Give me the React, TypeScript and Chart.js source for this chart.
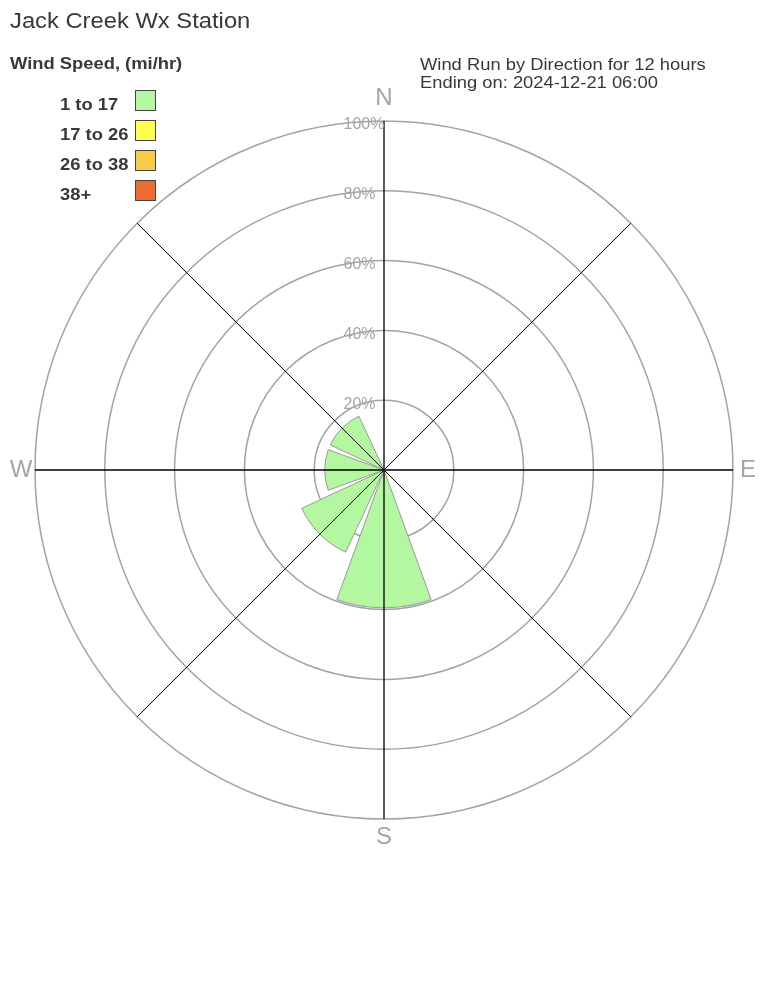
import React, { useEffect, useRef } from 'react';
import { Chart, registerables } from 'chart.js';

Chart.register(...registerables);

// ---- data ----
const DIRECTIONS = ['N', 'NE', 'E', 'SE', 'S', 'SW', 'W', 'NW'];
const SPEED_BINS = ['1 to 17', '17 to 26', '26 to 38', '38+'];
const BIN_1_17 = [0, 0, 0, 0, 39.5, 26, 17, 17];
const BIN_17_26 = [0, 0, 0, 0, 0, 0, 0, 0];
const BIN_26_38 = [0, 0, 0, 0, 0, 0, 0, 0];
const BIN_38_PLUS = [0, 0, 0, 0, 0, 0, 0, 0];
const RING_TICKS = [20, 40, 60, 80, 100];
const COMPASS_LABELS = ['N', 'E', 'S', 'W'];
const TITLE = 'Jack Creek Wx Station';
const LEGEND_TITLE = 'Wind Speed, (mi/hr)';
const SUBTITLE_LINES = ['Wind Run by Direction for 12 hours', 'Ending on: 2024-12-21 06:00'];

// ---- styles ----
const BIN_COLORS = ['#b3f7a1', '#ffff4f', '#f7cd47', '#ee6d2e'];
const FONT = '"Liberation Sans", Arial, Helvetica, sans-serif';
const WEDGE_ANGLE = 40;
const GAP_ANGLE = 5;

const BINS = [BIN_1_17, BIN_17_26, BIN_26_38, BIN_38_PLUS];

function buildDatasets() {
  return BINS.map((bin, k) => {
    const perDir = DIRECTIONS.map((_, i) => {
      if (!(bin[i] > 0)) return 0;
      let s = 0;
      for (let j = 0; j <= k; j++) s += BINS[j][i];
      return s;
    });
    const data = perDir.flatMap((v) => [v, 0]);
    return {
      label: SPEED_BINS[k],
      data,
      backgroundColor: BIN_COLORS[k],
      borderColor: '#9a9a9a',
      borderWidth: (c: any) => (c.raw > 0 ? 1 : 0),
      angle: (c: any) => (c.dataIndex % 2 === 0 ? WEDGE_ANGLE : GAP_ANGLE),
    };
  });
}

const roseLabels = {
  id: 'roseLabels',
  afterDraw(chart: any) {
    const s = chart.scales.r;
    const ctx = chart.ctx;
    const R = s.drawingArea;
    const xc = s.xCenter;
    const yc = s.yCenter;
    ctx.save();
    ctx.fillStyle = '#a5a5a5';
    ctx.font = `16px ${FONT}`;
    ctx.textAlign = 'left';
    ctx.textBaseline = 'middle';
    RING_TICKS.forEach((v) => {
      const d = s.getDistanceFromCenterForValue(v);
      ctx.fillText(`${v}%`, xc - 40.5, yc - d + 4);
    });
    ctx.font = `24px ${FONT}`;
    ctx.textAlign = 'center';
    ctx.textBaseline = 'alphabetic';
    const pos: Record<string, [number, number]> = {
      N: [xc, yc - R - 16.4],
      E: [xc + R + 15, yc + 7],
      S: [xc, yc + R + 25],
      W: [xc - R - 14, yc + 7],
    };
    COMPASS_LABELS.forEach((l) => {
      const p = pos[l];
      ctx.fillText(l, p[0], p[1]);
    });
    ctx.restore();
  },
};

function Txt(props: { left: number; baseline: number; size: number; bold?: boolean; sx?: number; color?: string; children: any }) {
  const { left, baseline, size, bold, sx = 1.08, color = '#383838', children } = props;
  return (
    <div
      style={{
        position: 'absolute',
        left,
        top: baseline - 0.8465 * size,
        fontFamily: FONT,
        fontSize: size,
        lineHeight: `${size}px`,
        fontWeight: bold ? 700 : 400,
        color,
        whiteSpace: 'nowrap',
        transform: `scaleX(${sx})`,
        transformOrigin: 'left top',
      }}
    >
      {children}
    </div>
  );
}

export default function App() {
  const ref = useRef<HTMLCanvasElement | null>(null);

  useEffect(() => {
    if (!ref.current) return;
    const chart = new Chart(ref.current, {
      type: 'polarArea',
      data: {
        labels: DIRECTIONS.flatMap((d) => [d, '']),
        datasets: buildDatasets() as any,
      },
      options: {
        animation: false,
        responsive: false,
        layout: { padding: { left: 35, top: 121, right: 35, bottom: 189 } },
        plugins: {
          legend: { display: false },
          tooltip: { enabled: false },
        },
        scales: {
          r: {
            min: 0,
            max: 100,
            startAngle: -WEDGE_ANGLE / 2,
            afterBuildTicks: (sc: any) => {
              sc.ticks = [0, ...RING_TICKS].map((v) => ({ value: v }));
            },
            ticks: { display: false, stepSize: 20 },
            grid: { display: true, circular: true, color: '#a3a3a3', lineWidth: 1.5 },
            angleLines: { display: false },
            pointLabels: { display: false },
          },
          r2: {
            type: 'radialLinear',
            axis: 'r',
            min: 0,
            max: 100,
            startAngle: 0,
            ticks: { display: false, stepSize: 20 },
            grid: { display: false, z: 1 },
            angleLines: {
              display: true,
              color: '#000',
              lineWidth: (c: any) => (c.index % 2 ? 0 : c.index % 4 === 0 ? 1.3 : 1),
            },
            pointLabels: { display: false },
          },
        } as any,
      },
      plugins: [roseLabels],
    } as any);
    return () => chart.destroy();
  }, []);

  return (
    <div style={{ position: 'absolute', left: 0, top: 0, width: 768, height: 1008, background: '#fff', overflow: 'hidden' }}>
      <canvas ref={ref} width={768} height={1008} style={{ position: 'absolute', left: 0, top: 0, width: 768, height: 1008 }} />
      <Txt left={10} baseline={28.5} size={22}>{TITLE}</Txt>
      <Txt left={10} baseline={69} size={17} bold>{LEGEND_TITLE}</Txt>
      {SPEED_BINS.map((b, k) => (
        <React.Fragment key={b}>
          <Txt left={60} baseline={110 + 30 * k} size={17} bold>{b}</Txt>
          <div
            style={{
              position: 'absolute',
              left: 135,
              top: 90 + 30 * k,
              width: 21,
              height: 21,
              boxSizing: 'border-box',
              border: '1px solid #444',
              background: BIN_COLORS[k],
            }}
          />
        </React.Fragment>
      ))}
      {SUBTITLE_LINES.map((l, i) => (
        <Txt key={l} left={420} baseline={70.5 + 17.5 * i} size={17}>{l}</Txt>
      ))}
    </div>
  );
}
